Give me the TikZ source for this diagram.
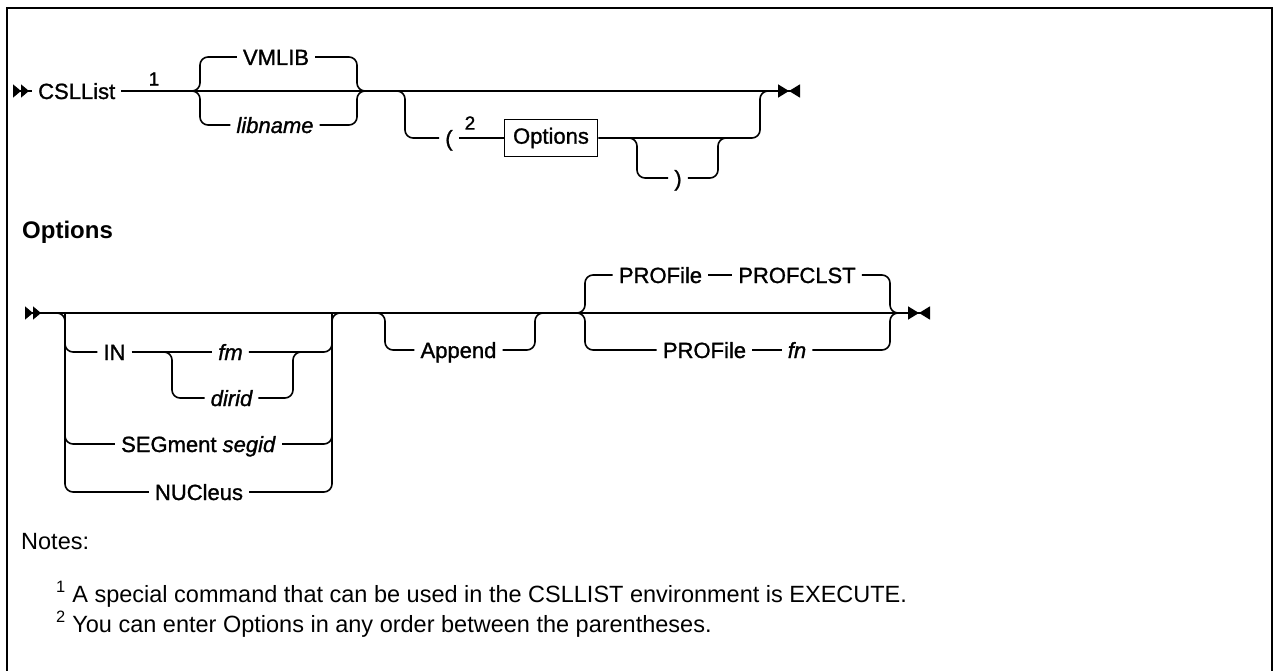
\documentclass[tikz,border=0pt]{standalone}
\usepackage{fontspec}
\setmainfont{Liberation Sans}
\newfontfamily\railfamily[FakeBold=1.2]{Liberation Sans}
\usetikzlibrary{arrows.meta}

\newcommand{\railfont}{\railfamily\fontsize{22}{26}\selectfont}
\newcommand{\supfont}{\railfamily\fontsize{19}{21}\selectfont}
\newcommand{\notefont}{\fontsize{23.5}{28}\selectfont}

\tikzset{
  dbl/.tip={Triangle[reversed,length=8pt,width=13pt,sep=0pt] Triangle[reversed,length=8pt,width=13pt,sep=0pt]},
  stopper/.tip={Triangle[length=11pt,width=13pt,sep=0pt] Triangle[reversed,length=11pt,width=13pt,sep=0pt]},
  rail/.style={line width=1.6pt, rounded corners=8pt},
  kw/.style={font=\railfont, inner xsep=6pt, inner ysep=0pt, text height=16pt, text depth=0pt},
  var/.style={kw, font=\railfont\itshape},
  supnum/.style={font=\supfont, inner sep=0pt},
  syntaxbox/.style={draw, line width=1.6pt, font=\railfont, minimum width=93pt, minimum height=37pt, inner sep=0pt},
  note/.style={font=\notefont, anchor=west, inner sep=0pt, text height=16pt, text depth=0pt},
}

\begin{document}
\begin{tikzpicture}[x=1pt,y=-1pt]
    \useasboundingbox (0,0) rectangle (1274,671);
    \draw[line width=2pt] (7,671) -- (7,8) -- (1272,8) -- (1272,671);

    \coordinate (s1) at (13,91);
    \coordinate (e1) at (800,91);
    \coordinate (b1) at (200,91);
    \coordinate (b2) at (357,91);
    \coordinate (b3) at (405,91);
    \coordinate (b4) at (760,91);
    \coordinate (c1) at (637,138);
    \coordinate (c2) at (718,138);

    \node[kw, anchor=west] (csl) at (32,91) {CSLList};
    \node[supnum] (n1) at (154,79) {1};
    \node[kw] (vmlib) at (276,57) {VMLIB};
    \node[var] (libname) at (275,125) {libname};
    \node[kw] (lpar) at (449,138) {(};
    \node[supnum] (n2) at (470,123) {2};
    \node[syntaxbox] (optref) at (551,138) {Options};
    \node[kw] (rpar) at (678,178) {)};

    \draw[rail, dbl-] (s1) -- (csl.west);
    \draw[rail, -stopper] (csl.east) -- (e1);
    \draw[rail] (b1) ++(-8,0) -- (b1) |- (vmlib.west);
    \draw[rail] (b1) ++(-8,0) -- (b1) |- (libname.west);
    \draw[rail] (vmlib.east) -| (b2) -- ++(8,0);
    \draw[rail] (libname.east) -| (b2) -- ++(8,0);
    \draw[rail] (b3) ++(-8,0) -- (b3) |- (lpar.west);
    \draw[rail] (lpar.east) -- (optref.west);
    \draw[rail] (optref.east) -| (b4) -- ++(8,0);
    \draw[rail] (c1) ++(-8,0) -- (c1) |- (rpar.west);
    \draw[rail] (rpar.east) -| (c2) -- ++(8,0);

    \node[note, font=\fontsize{24}{28}\selectfont\bfseries] (opthead) at (22,230) {Options};

    \coordinate (s2) at (25,313);
    \coordinate (e2) at (930,313);
    \coordinate (g1) at (65,313);
    \coordinate (g2) at (332,313);
    \coordinate (i1) at (172,352);
    \coordinate (i2) at (293,352);
    \coordinate (a1) at (385,313);
    \coordinate (a2) at (535,313);
    \coordinate (p1) at (585,313);
    \coordinate (p2) at (890,313);

    \node[kw] (in) at (114.5,352) {IN};
    \node[var] (fm) at (230.5,352) {fm};
    \node[var] (dirid) at (231.5,398) {dirid};
    \node[kw] (seg) at (198.5,444) {SEGment \textit{segid}};
    \node[kw] (nuc) at (199,492) {NUCleus};
    \node[kw] (app) at (458.5,350) {Append};
    \node[kw] (prof1) at (660.5,275) {PROFile};
    \node[kw] (clst) at (797,275) {PROFCLST};
    \node[kw] (prof2) at (704.5,350) {PROFile};
    \node[var] (fn) at (797,350) {fn};

    \draw[rail, dbl-stopper] (s2) -- (e2);
    \draw[rail] (g1) ++(-8,0) -- (g1) |- (nuc.west);
    \draw[rail] (g1) |- (in.west);
    \draw[rail] (g1) |- (seg.west);
    \draw[rail] (in.east) -- (fm.west);
    \draw[rail] (i1) ++(-8,0) -- (i1) |- (dirid.west);
    \draw[rail] (dirid.east) -| (i2) -- ++(8,0);
    \draw[rail] (fm.east) -| (g2);
    \draw[rail] (seg.east) -| (g2);
    \draw[rail] (nuc.east) -| (g2) -- ++(8,0);
    \draw[rail] (a1) ++(-8,0) -- (a1) |- (app.west);
    \draw[rail] (app.east) -| (a2) -- ++(8,0);
    \draw[rail] (p1) ++(-8,0) -- (p1) |- (prof1.west);
    \draw[rail] (p1) ++(-8,0) -- (p1) |- (prof2.west);
    \draw[rail] (prof1.east) -- (clst.west);
    \draw[rail] (clst.east) -| (p2) -- ++(8,0);
    \draw[rail] (prof2.east) -- (fn.west);
    \draw[rail] (fn.east) -| (p2) -- ++(8,0);

    \node[note] (notes) at (21,541) {Notes:};
    \node[note] (note1) at (56,594) {\textsuperscript{1} A special command that can be used in the CSLLIST environment is EXECUTE.};
    \node[note] (note2) at (56,624) {\textsuperscript{2} You can enter Options in any order between the parentheses.};
\end{tikzpicture}
\end{document}
